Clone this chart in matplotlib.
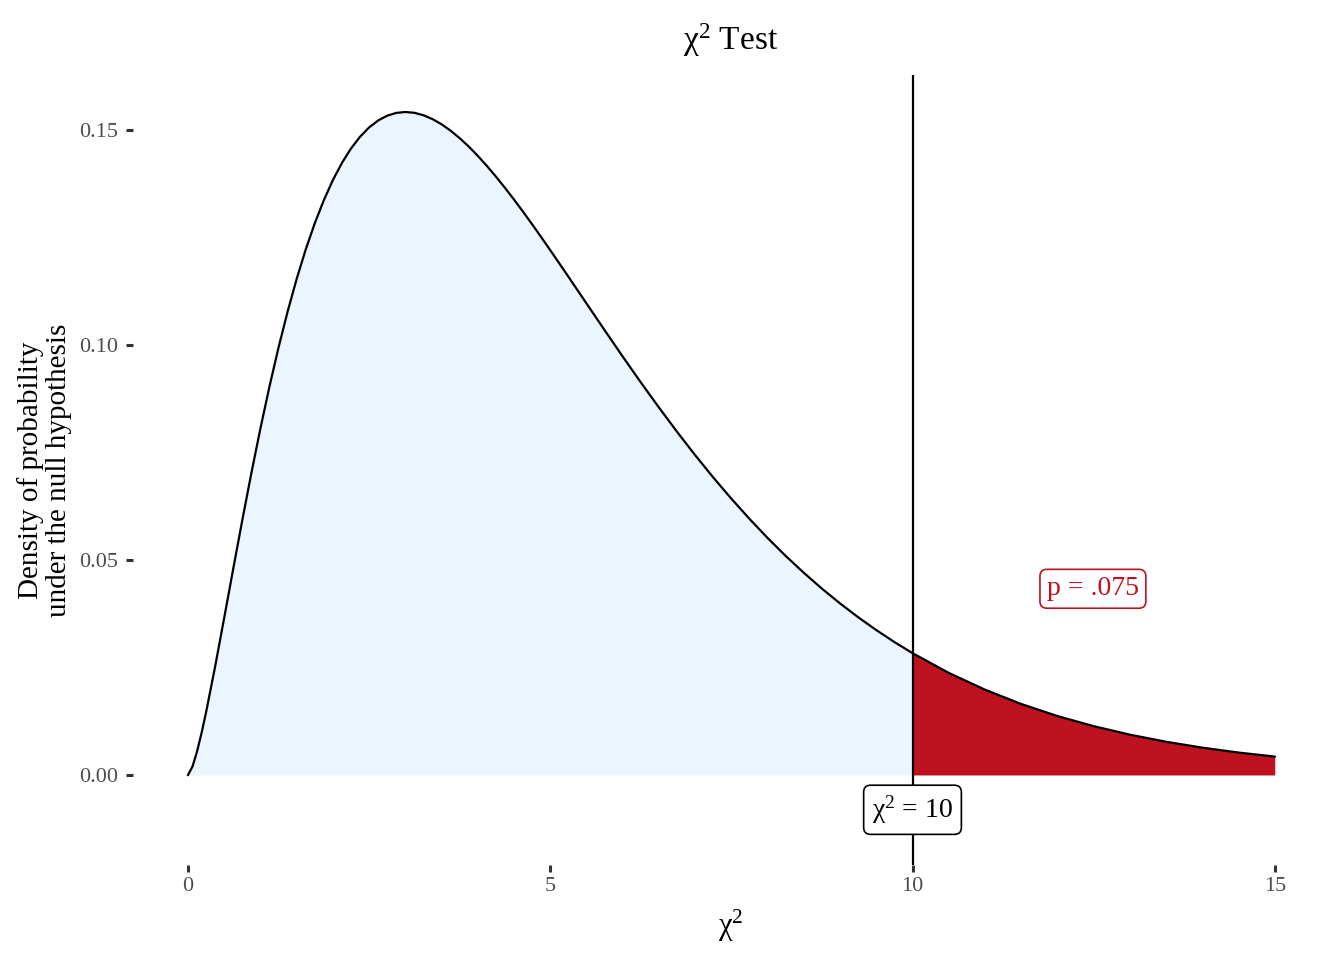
import matplotlib
matplotlib.use("Agg")
import matplotlib.pyplot as plt

plt.rcParams['font.family'] = ['Liberation Serif', 'DejaVu Serif']
plt.rcParams['mathtext.fontset'] = 'custom'
plt.rcParams['mathtext.rm'] = 'Liberation Serif'
plt.rcParams['mathtext.default'] = 'regular'

# chi-square statistic and density curve (df = 5)
chi_obs = 10
p_label = 'p = .075'
x_vals = [0, 0.0625, 0.125, 0.1875, 0.25, 0.375, 0.5, 0.625, 0.75, 0.875,
          1, 1.125, 1.25, 1.375, 1.5, 1.625, 1.75, 1.875, 2, 2.125, 2.25,
          2.375, 2.5, 2.625, 2.75, 2.875, 3, 3.125, 3.25, 3.375, 3.5, 3.625,
          3.75, 3.875, 4, 4.125, 4.25, 4.375, 4.5, 4.625, 4.75, 4.875, 5,
          5.25, 5.5, 5.75, 6, 6.25, 6.5, 6.75, 7, 7.25, 7.5, 7.75, 8, 8.25,
          8.5, 8.75, 9, 9.25, 9.5, 9.75, 10, 10.5, 11, 11.5, 12, 12.5, 13,
          13.5, 14, 14.5, 15]
density = [0.0, 0.00201, 0.00552, 0.00983, 0.01467, 0.02532, 0.03662,
           0.04807, 0.05936, 0.07028, 0.08066, 0.09041, 0.09948, 0.10781,
           0.11540, 0.12224, 0.12833, 0.13370, 0.13837, 0.14236, 0.14571,
           0.14844, 0.15060, 0.15222, 0.15333, 0.15397, 0.15418, 0.15399,
           0.15342, 0.15252, 0.15132, 0.14983, 0.14809, 0.14614, 0.14398,
           0.14164, 0.13915, 0.13653, 0.13380, 0.13097, 0.12805, 0.12507,
           0.12204, 0.11588, 0.10965, 0.10344, 0.09730, 0.09129, 0.08545,
           0.07980, 0.07437, 0.06918, 0.06424, 0.05955, 0.05511, 0.05093,
           0.04701, 0.04333, 0.03989, 0.03668, 0.03369, 0.03091, 0.02833,
           0.02374, 0.01983, 0.01651, 0.01370, 0.01135, 0.00937, 0.00772,
           0.00635, 0.00521, 0.00427]
x_ticks = [0, 5, 10, 15]
y_ticks = [0.00, 0.05, 0.10, 0.15]

blue = '#EBF5FF'
red = '#BE1220'

fig = plt.figure(figsize=(13.44, 9.6), dpi=100)
ax = fig.add_axes([0.099, 0.099, 0.8899, 0.8229])

i10 = x_vals.index(chi_obs)
ax.fill_between(x_vals[:i10 + 1], 0, density[:i10 + 1], color=blue, lw=0)
ax.fill_between(x_vals[i10:], 0, density[i10:], color=red, lw=0)
ax.plot(x_vals, density, color='black', lw=1.6, solid_joinstyle='round')
ax.axvline(chi_obs, color='black', lw=1.6)

ax.text(chi_obs, -0.0081, r'$\chi^2$ = 10', ha='center', va='center',
        fontsize=20, color='black',
        bbox=dict(boxstyle='round,pad=0.3,rounding_size=0.25', fc='white',
                  ec='black', lw=1.2))
ax.text(12.49, 0.0433, p_label, ha='center', va='center', fontsize=20,
        color=red,
        bbox=dict(boxstyle='round,pad=0.25,rounding_size=0.25', fc='white',
                  ec=red, lw=1.2))

ax.set_xlim(-0.759, 15.75)
ax.set_ylim(-0.02093, 0.16279)
ax.set_xticks(x_ticks)
ax.set_xticklabels([str(t) for t in x_ticks])
ax.set_yticks(y_ticks)
ax.set_yticklabels(['%.2f' % t for t in y_ticks])
for s in ax.spines.values():
    s.set_visible(False)
ax.tick_params(length=5, width=2.2, color='#333333', labelcolor='#4D4D4D',
               labelsize=16)
ax.tick_params(axis='y', pad=6)
ax.tick_params(axis='x', pad=4)

ax.set_title(r'$\chi^2$ Test', fontsize=24, pad=18)
ax.set_xlabel(r'$\chi^2$', fontsize=22, labelpad=8)
ax.set_ylabel('Density of probability\nunder the null hypothesis',
              fontsize=21, labelpad=5, linespacing=1.1)

fig.savefig('out.png', dpi=100)
